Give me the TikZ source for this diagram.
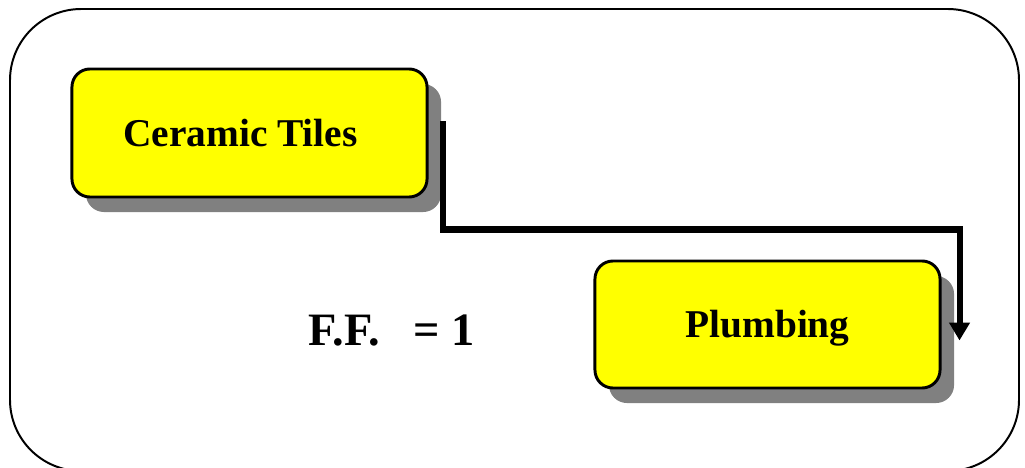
\documentclass[tikz,border=0pt]{standalone}
\usepackage{fontspec}
\setmainfont{Liberation Serif}
\usetikzlibrary{arrows.meta,shadows}
\definecolor{taskyellow}{RGB}{255,255,0}
\newcommand{\boxradius}{0.45cm}
\newcommand{\frameradius}{1.78cm}
\tikzset{
    task/.style={draw,line width=2.1pt,fill=taskyellow,rounded corners=\boxradius,
        minimum height=3.2cm,text height=18.6pt,text depth=0pt,
        font=\fontsize{28}{32}\selectfont\bfseries,
        drop shadow={shadow xshift=0.35cm,shadow yshift=-0.375cm,fill=gray,opacity=1}},
    link/.style={line width=4.3pt,-{Triangle[length=0.45cm,width=0.5cm]}}
}

\begin{document}
\begin{tikzpicture}[x=0.025cm,y=-0.025cm]

\useasboundingbox (0,0) rectangle (1025,467);

% outer frame, bottom edge runs off the page
\draw [line width=1.4pt,rounded corners=\frameradius] (10,9) rectangle (1019,471);

% activities
\node [task,minimum width=8.875cm] (ceramic) at (249.5,133) {Ceramic Tiles\kern13pt};
\node [task,minimum width=8.625cm,minimum height=3.175cm] (plumbing) at (767.5,324.5) {Plumbing};

% finish to finish relation
\draw [link] ([shift={(14,-12)}]ceramic.east) |- ([shift={(18,-95)}]plumbing.east)
    -- ([shift={(18,16)}]plumbing.east);

% lag
\node [anchor=base,font=\fontsize{33}{38}\selectfont\bfseries] (ff) at (391.5,345) {F.F.\hspace{24pt}= 1};

\end{tikzpicture}
\end{document}
